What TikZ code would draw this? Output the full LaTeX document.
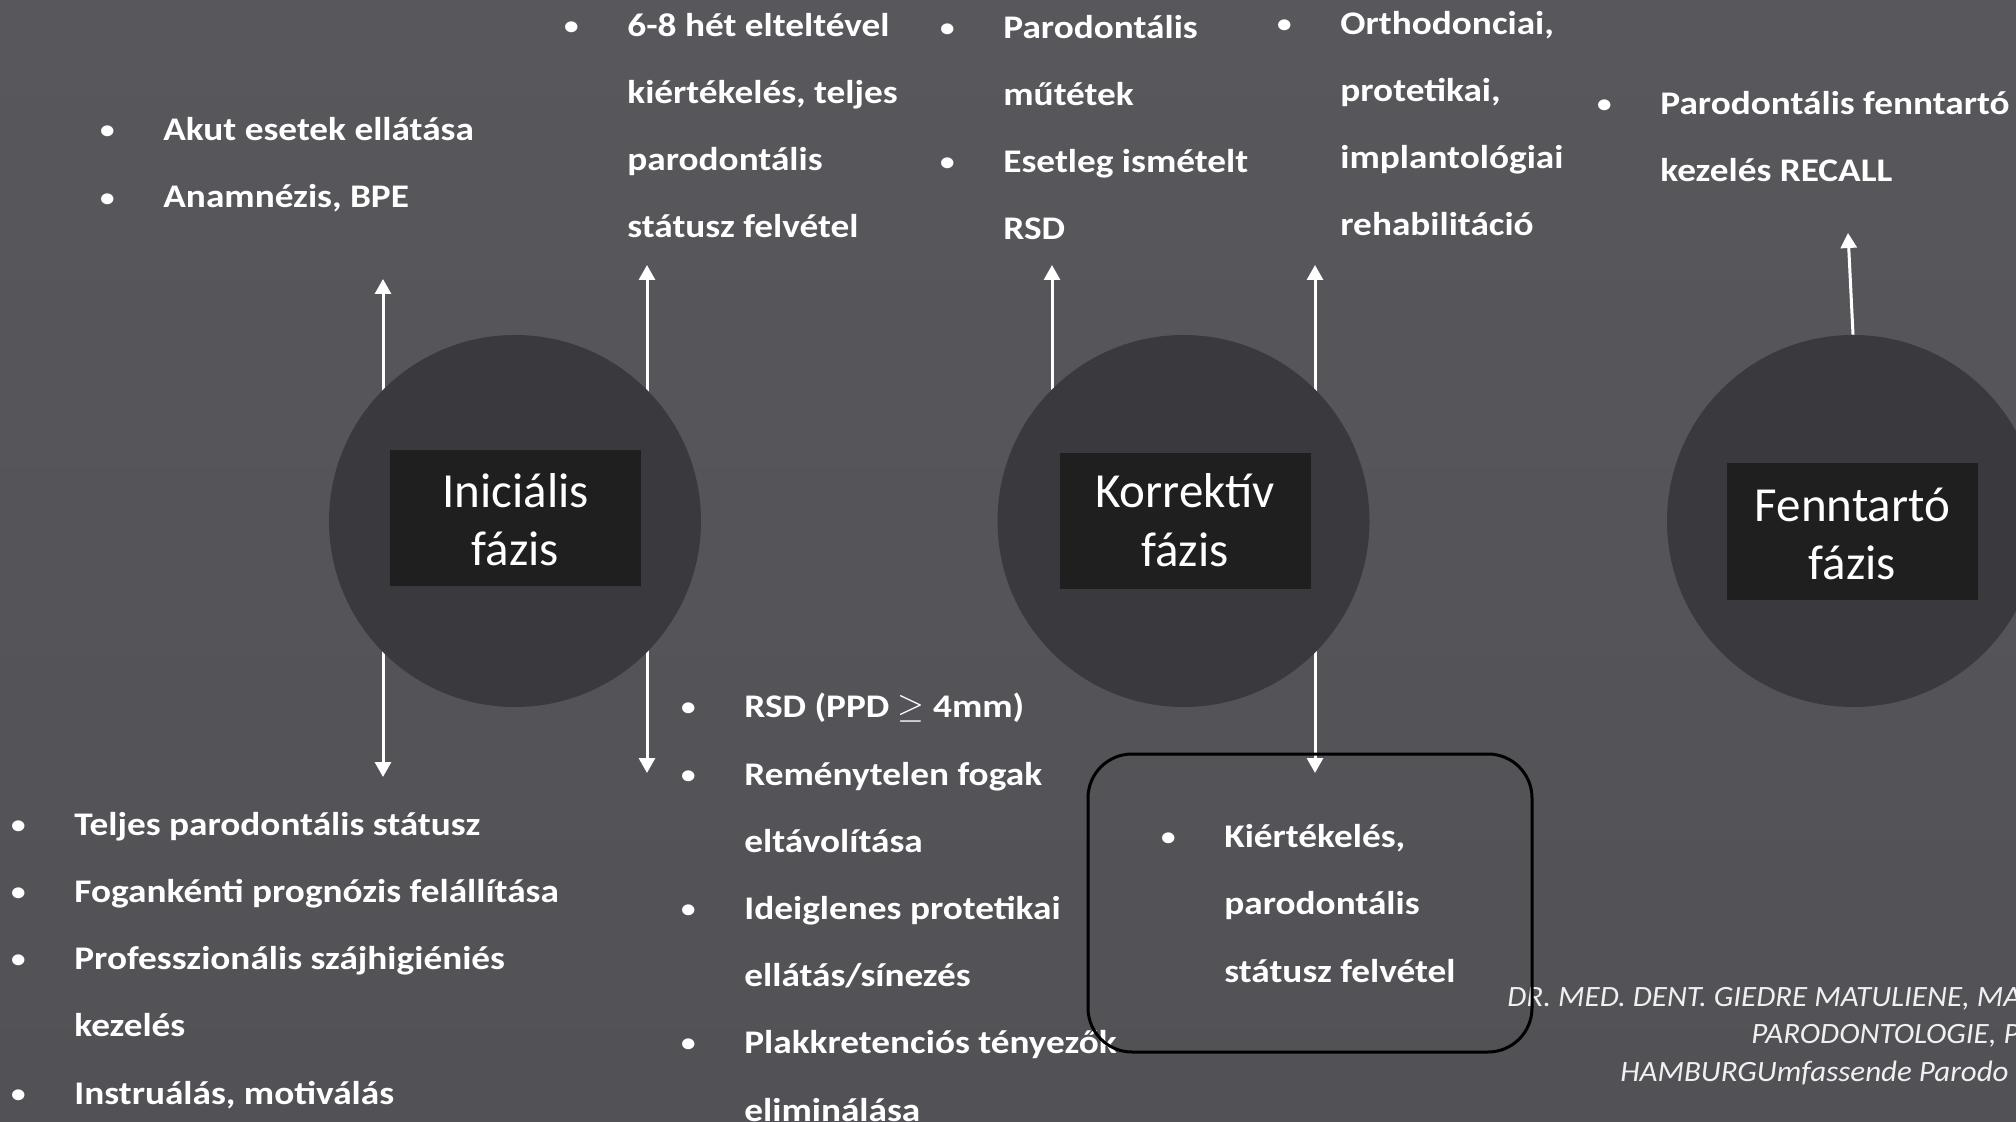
\documentclass[tikz,border=0pt]{standalone}
\usepackage{fontspec}
\setmainfont{Carlito}
\newfontfamily\wideb{Carlito}[FakeStretch=1.13]
\newfontfamily\widei{Carlito}[FakeStretch=1.05]
\usetikzlibrary{arrows.meta}
\pgfdeclarelayer{back}
\pgfsetlayers{back,main}
\definecolor{bgtop}{HTML}{58575C}
\definecolor{bgmid}{HTML}{757479}
\definecolor{bgbot}{HTML}{525156}
\definecolor{circ}{HTML}{3A393D}
\definecolor{boxc}{HTML}{1F1F20}
\newcommand{\bu}{\makebox[0pt][c]{\raisebox{0.06em}{\scalebox{0.78}{•}}}\hspace*{28pt}}
\newcommand{\ind}{\hspace*{28pt}}
\tikzset{
  blk/.style={font=\wideb\bfseries\fontsize{16.5}{33.6}\selectfont, text=white, align=left, inner sep=0pt, anchor=base west},
  phase/.style={circle, fill=circ, minimum size=186pt, inner sep=0pt},
  lblbox/.style={fill=boxc, minimum width=125.5pt, minimum height=68pt, inner sep=0pt},
  lbl/.style={font=\fontsize{24.5}{29}\selectfont, text=white, align=center, inner sep=0pt, anchor=base},
  arr/.style={draw=white, line width=1.5pt, -{Triangle[width=8pt,length=7.5pt]}},
  note/.style={font=\widei\itshape\fontsize{14.75}{18}\selectfont, text=white!94!black, inner sep=0pt, anchor=base west},
  frame/.style={draw=black, line width=1.5pt, rounded corners=22pt, minimum width=222pt, minimum height=149pt, inner sep=0pt}
}
\begin{document}
\begin{tikzpicture}[x=0.5pt,y=-0.5pt]
\useasboundingbox (0,0) rectangle (2016,1122);
\clip (0,0) rectangle (2016,1122);

% phase circles
\node[phase] (c1) at (515,521) {};
\node[phase] (c2) at (1183.5,521) {};
\node[phase] (c3) at (1853,521) {};
\node[lblbox] (bx1) at (515.5,518) {};
\node[lblbox] (bx2) at (1185,521) {};
\node[lblbox] (bx3) at (1852.5,531.5) {};
% anchors are at the baseline of the last line
\node[lbl] (t1) at (515.5,565) {Iniciális\\fázis};
\node[lbl] (t2) at (1185,566) {Korrektív\\fázis};
\node[lbl] (t3) at (1852.5,579) {Fenntartó\\fázis};

% arrow tips
\coordinate (a1) at (383,279);
\coordinate (a2) at (647,265);
\coordinate (a3) at (383,777);
\coordinate (a4) at (647,773);
\coordinate (a5) at (1052,265);
\coordinate (a6) at (1315,265);
\coordinate (a7) at (1315,773);
\coordinate (a8) at (1848,233);

% text blocks (positioned at last line's baseline)
\node[blk] (b1) at (107,208) {\bu Akut esetek ellátása\\ \bu Anamnézis, BPE};
\node[blk] (b2) at (571,238) {\bu 6-8 hét elteltével\\ \ind kiértékelés, teljes\\ \ind parodontális\\ \ind státusz felvétel};
\node[blk] (b3) at (947,240) {\bu Parodontális\\ \ind műtétek\\ \bu Esetleg ismételt\\ \ind RSD};
\node[blk] (b4) at (1284,236) {\bu Orthodonciai,\\ \ind protetikai,\\ \ind implantológiai\\ \ind rehabilitáció};
\node[blk] (b5) at (1604,182) {\bu Parodontális fenntartó\\ \ind kezelés RECALL};
\node[blk] (b6) at (18,1104) {\bu Teljes parodontális státusz\\ \bu Fogankénti prognózis felállítása\\ \bu Professzionális szájhigiéniés\\ \ind kezelés\\ \bu Instruálás, motiválás};
\node[blk] (b7) at (688,1121) {\bu RSD (PPD $\geq$ 4mm)\\ \bu Reménytelen fogak\\ \ind eltávolítása\\ \bu Ideiglenes protetikai\\ \ind ellátás/sínezés\\ \bu Plakkretenciós tényezők\\ \ind eliminálása};
\node[blk] (b8) at (1168,982) {\bu Kiértékelés,\\ \ind parodontális\\ \ind státusz felvétel};

% footnote
\node[note] (n1) at (1507,1006) {DR. MED. DENT. GIEDRE MATULIENE, MA};
\node[note] (n2) at (1751,1043) {PARODONTOLOGIE, P};
\node[note] (n3) at (1620,1081) {HAMBURGUmfassende Parodo};

% frame
\node[frame] (fr) at (1310,903) {};

\begin{pgfonlayer}{back}
  \shade[top color=bgtop, middle color=bgmid, bottom color=bgbot] (0,0) rectangle (2016,1122);
  \draw[arr] (c1.center -| a1) -- (a1);
  \draw[arr] (c1.center -| a2) -- (a2);
  \draw[arr] (c1.center -| a3) -- (a3);
  \draw[arr] (c1.center -| a4) -- (a4);
  \draw[arr] (c2.center -| a5) -- (a5);
  \draw[arr] (c2.center -| a6) -- (a6);
  \draw[arr] (c2.center -| a7) -- (a7);
  \draw[arr] (c3.north) -- (a8);
\end{pgfonlayer}
\end{tikzpicture}
\end{document}
